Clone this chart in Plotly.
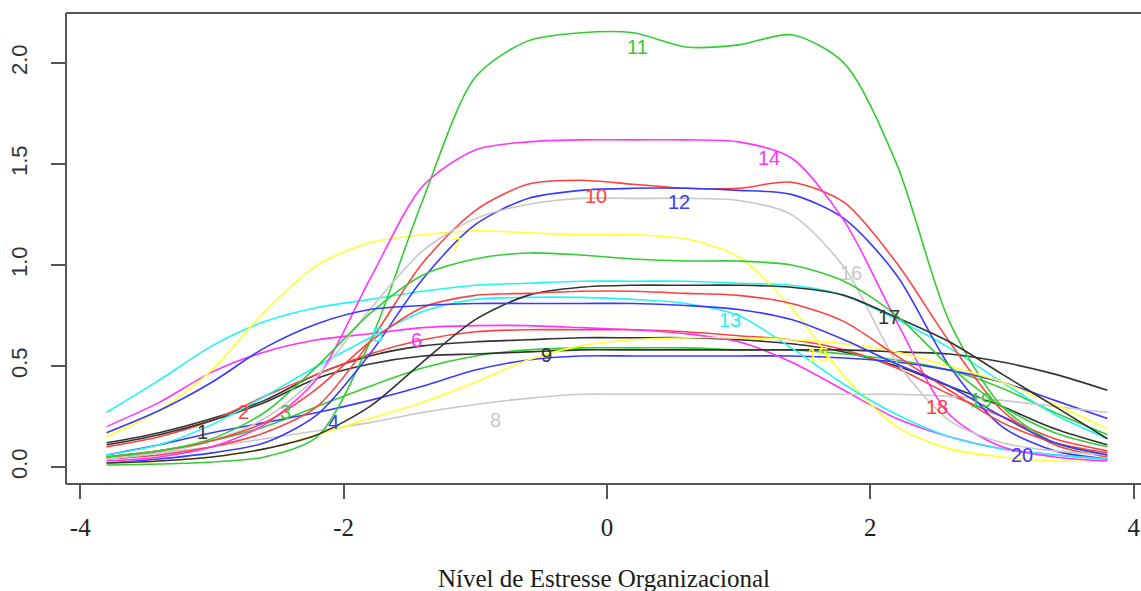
import plotly.graph_objects as go

# Ability grid (theta) at which item information was evaluated
theta = [-3.8, -3.4, -3.0, -2.6, -2.2, -1.8, -1.4, -1.0, -0.6, -0.2,
         0.2, 0.6, 1.0, 1.4, 1.8, 2.2, 2.6, 3.0, 3.4, 3.8]

# Item information curves, items 1..20
info_01 = [0.12, 0.17, 0.24, 0.33, 0.46, 0.55, 0.60, 0.62, 0.63, 0.64, 0.64, 0.64, 0.63, 0.61, 0.57, 0.50, 0.40, 0.30, 0.19, 0.11]
info_02 = [0.10, 0.15, 0.23, 0.35, 0.46, 0.56, 0.63, 0.67, 0.68, 0.68, 0.68, 0.67, 0.65, 0.63, 0.58, 0.49, 0.36, 0.25, 0.14, 0.08]
info_03 = [0.05, 0.08, 0.13, 0.20, 0.30, 0.40, 0.49, 0.55, 0.58, 0.59, 0.59, 0.59, 0.58, 0.58, 0.56, 0.53, 0.48, 0.39, 0.27, 0.16]
info_04 = [0.06, 0.11, 0.17, 0.22, 0.27, 0.33, 0.40, 0.48, 0.53, 0.55, 0.55, 0.55, 0.55, 0.55, 0.54, 0.52, 0.48, 0.42, 0.33, 0.24]
info_05 = [0.27, 0.43, 0.60, 0.72, 0.79, 0.83, 0.87, 0.90, 0.91, 0.92, 0.92, 0.92, 0.91, 0.90, 0.85, 0.73, 0.59, 0.42, 0.26, 0.14]
info_06 = [0.20, 0.32, 0.47, 0.57, 0.63, 0.66, 0.69, 0.70, 0.70, 0.69, 0.68, 0.66, 0.62, 0.52, 0.38, 0.24, 0.15, 0.09, 0.06, 0.04]
info_07 = [0.15, 0.28, 0.48, 0.77, 1.00, 1.11, 1.15, 1.17, 1.16, 1.15, 1.15, 1.13, 1.04, 0.79, 0.45, 0.20, 0.09, 0.05, 0.03, 0.03]
info_08 = [0.05, 0.07, 0.10, 0.14, 0.18, 0.22, 0.27, 0.31, 0.34, 0.36, 0.36, 0.36, 0.36, 0.36, 0.36, 0.36, 0.35, 0.33, 0.30, 0.27]
info_09 = [0.11, 0.16, 0.23, 0.32, 0.44, 0.51, 0.55, 0.56, 0.57, 0.58, 0.58, 0.58, 0.58, 0.58, 0.58, 0.57, 0.56, 0.52, 0.46, 0.38]
info_10 = [0.04, 0.06, 0.10, 0.17, 0.30, 0.62, 1.01, 1.27, 1.40, 1.42, 1.40, 1.38, 1.38, 1.41, 1.31, 1.01, 0.62, 0.28, 0.11, 0.05]
info_11 = [0.01, 0.015, 0.025, 0.05, 0.15, 0.62, 1.32, 1.93, 2.11, 2.15, 2.15, 2.08, 2.09, 2.14, 2.00, 1.50, 0.72, 0.30, 0.12, 0.06]
info_12 = [0.02, 0.04, 0.07, 0.12, 0.26, 0.56, 0.93, 1.20, 1.33, 1.37, 1.38, 1.38, 1.37, 1.35, 1.23, 0.95, 0.50, 0.20, 0.08, 0.04]
info_13 = [0.06, 0.11, 0.21, 0.35, 0.50, 0.64, 0.77, 0.83, 0.84, 0.84, 0.83, 0.81, 0.75, 0.59, 0.41, 0.26, 0.15, 0.09, 0.06, 0.04]
info_14 = [0.03, 0.05, 0.10, 0.21, 0.44, 0.93, 1.39, 1.57, 1.61, 1.62, 1.62, 1.62, 1.61, 1.53, 1.22, 0.72, 0.26, 0.10, 0.05, 0.03]
info_15 = [0.02, 0.03, 0.05, 0.09, 0.16, 0.24, 0.32, 0.42, 0.53, 0.60, 0.63, 0.64, 0.64, 0.63, 0.61, 0.57, 0.50, 0.42, 0.31, 0.19]
info_16 = [0.04, 0.07, 0.13, 0.24, 0.45, 0.78, 1.07, 1.23, 1.30, 1.33, 1.33, 1.33, 1.32, 1.25, 0.99, 0.52, 0.23, 0.12, 0.08, 0.06]
info_17 = [0.02, 0.03, 0.05, 0.09, 0.16, 0.30, 0.52, 0.73, 0.85, 0.89, 0.90, 0.90, 0.90, 0.89, 0.85, 0.74, 0.62, 0.46, 0.30, 0.14]
info_18 = [0.05, 0.08, 0.13, 0.22, 0.39, 0.62, 0.79, 0.85, 0.86, 0.87, 0.87, 0.86, 0.85, 0.81, 0.72, 0.55, 0.38, 0.22, 0.12, 0.07]
info_19 = [0.05, 0.08, 0.14, 0.27, 0.50, 0.76, 0.95, 1.03, 1.06, 1.05, 1.03, 1.02, 1.02, 1.00, 0.92, 0.75, 0.50, 0.30, 0.17, 0.10]
info_20 = [0.17, 0.28, 0.42, 0.59, 0.71, 0.78, 0.80, 0.81, 0.81, 0.81, 0.81, 0.80, 0.78, 0.73, 0.63, 0.51, 0.40, 0.25, 0.12, 0.06]

curves = [info_01, info_02, info_03, info_04, info_05, info_06, info_07, info_08, info_09, info_10,
          info_11, info_12, info_13, info_14, info_15, info_16, info_17, info_18, info_19, info_20]
item_names = [str(i) for i in range(1, 21)]

# Where each item number is written on the chart
label_theta = [-3.07, -2.76, -2.445, -2.08, -1.746, -1.45, -1.139, -0.843, -0.456, -0.084,
               0.228, 0.547, 0.934, 1.23, 1.602, 1.853, 2.141, 2.506, 2.84, 3.15]
label_info = [0.173, 0.272, 0.272, 0.223, 0.653, 0.629, 1.099, 0.233, 0.554, 1.342,
              2.079, 1.312, 0.728, 1.530, 0.554, 0.960, 0.743, 0.297, 0.332, 0.059]

x_ticks = [-4, -2, 0, 2, 4]
x_tick_text = ["-4", "-2", "0", "2", "4"]
y_ticks = [0.0, 0.5, 1.0, 1.5, 2.0]
y_tick_text = ["0.0", "0.5", "1.0", "1.5", "2.0"]

# Classic 8-colour palette, recycled over the 20 items
palette = ["#333333", "#FF4040", "#33CC33", "#3A3AFF",
           "#22F5F5", "#FF33FF", "#FFFF33", "#C8C8C8"]

fig = go.Figure()
for i, vals in enumerate(curves):
    fig.add_trace(go.Scatter(
        x=theta, y=vals, mode="lines",
        line=dict(color=palette[i % 8], width=1.6, shape="spline", smoothing=0.8),
        name=item_names[i], showlegend=False, hoverinfo="skip"))

for i, name in enumerate(item_names):
    fig.add_annotation(x=label_theta[i], y=label_info[i], text=name, showarrow=False,
                       xanchor="center", yanchor="middle",
                       font=dict(family="Liberation Sans, Arial", size=20, color=palette[i % 8]))

# Axis title
fig.add_annotation(xref="paper", yref="paper", x=0.5005, y=-0.2, text="Nível de Estresse Organizacional",
                   showarrow=False, xanchor="center", yanchor="middle",
                   font=dict(family="Liberation Serif, Times New Roman", size=25, color="#1a1a1a"))

# Plot frame (open on the right, beyond the page edge)
frame = dict(color="#555555", width=2)
fig.add_shape(type="line", xref="paper", yref="paper", x0=0, x1=1.02, y0=1, y1=1, line=frame)
fig.add_shape(type="line", xref="paper", yref="paper", x0=0, x1=1.02, y0=0, y1=0, line=frame)
fig.add_shape(type="line", xref="paper", yref="paper", x0=0, x1=0, y0=0, y1=1, line=frame)

fig.update_layout(
    width=1141, height=591,
    margin=dict(l=66, r=0, t=13, b=107),
    paper_bgcolor="white", plot_bgcolor="white",
    xaxis=dict(range=[-4.108, 4.055], tickmode="array", tickvals=x_ticks, ticktext=x_tick_text,
               ticks="outside", ticklen=14, tickwidth=2, tickcolor="#555555", ticklabelstandoff=7,
               showgrid=False, zeroline=False, showline=False,
               tickfont=dict(family="Liberation Serif, Times New Roman", size=25, color="#222222")),
    yaxis=dict(range=[-0.084, 2.248], tickmode="array", tickvals=y_ticks, ticktext=y_tick_text,
               ticks="outside", ticklen=14, tickwidth=2, tickcolor="#555555", tickangle=-90,
               ticklabelstandoff=15,
               showgrid=False, zeroline=False, showline=False,
               tickfont=dict(family="Liberation Sans, Arial", size=22, color="#333333")),
)

fig.write_html("out.html")
